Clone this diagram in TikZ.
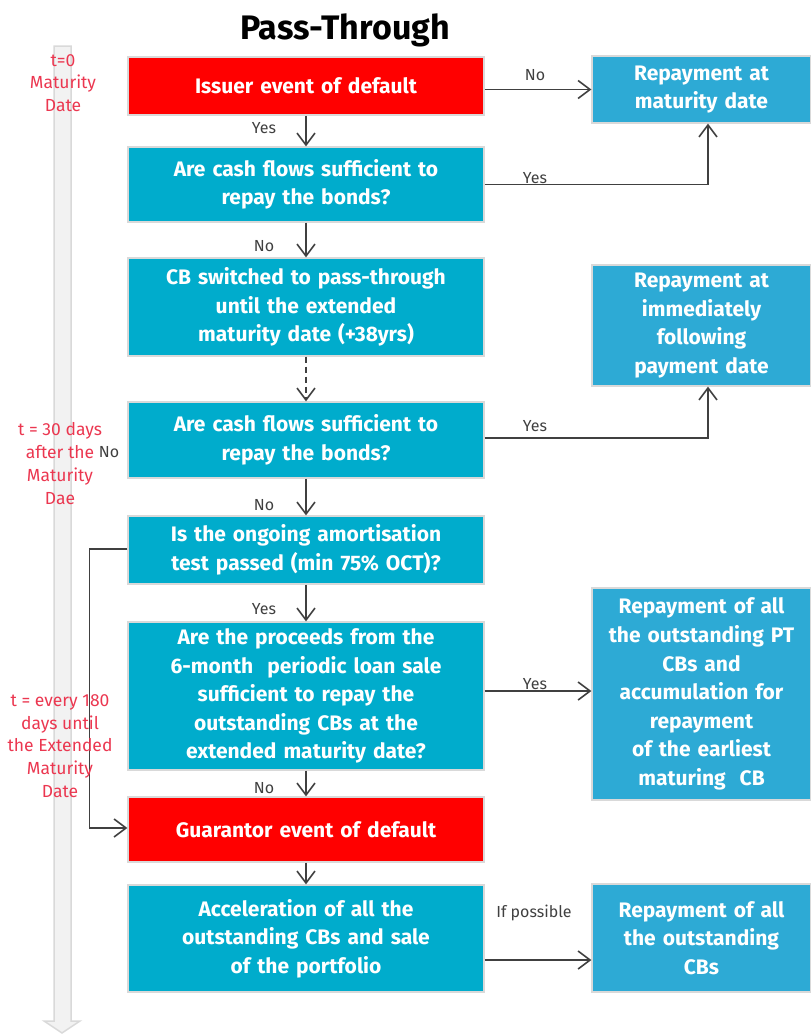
\documentclass[tikz,border=0pt]{standalone}
\usepackage{fontspec}
\setmainfont{Fira Sans}
\usetikzlibrary{arrows.meta,positioning}
\definecolor{BoxTeal}{RGB}{0,172,204}
\definecolor{BoxBlue}{RGB}{45,170,213}
\definecolor{AlertRed}{RGB}{255,0,0}
\definecolor{TimeRed}{RGB}{235,55,80}
\definecolor{LineGray}{RGB}{64,64,64}
\tikzset{
  flowbox/.style={fill=BoxTeal,draw=black!15,line width=1.2,text=white,
    font=\fontsize{21}{28.6}\selectfont\bfseries,align=center,
    minimum width=356,text width=346,inner sep=0},
  alertbox/.style={flowbox,fill=AlertRed},
  outbox/.style={flowbox,fill=BoxBlue,minimum width=219,text width=214},
  answer/.style={text=LineGray,font=\fontsize{16}{18}\selectfont,inner sep=0},
  timenote/.style={text=TimeRed,font=\fontsize{17.5}{22.8}\selectfont,align=center,inner sep=0},
  flow/.style={->,line width=1.6,LineGray}
}
\begin{document}
\begin{tikzpicture}[x=1pt,y=-1pt,>={Straight Barb[length=12,width=18]}]
      \useasboundingbox (0,0) rectangle (811,1034);
      \draw[fill=black!5,draw=black!15,line width=1.5]
        (54,46) -- (71,46) -- (71,1021) -- (80,1021) -- (62,1033)
        -- (44,1021) -- (54,1021) -- cycle;
      \node[font=\fontsize{34}{40}\selectfont\bfseries] (title) at (345,30) {Pass-Through};
      \node[alertbox,minimum height=58] (default) at (306,86) {Issuer event of default};
      \node[flowbox,minimum height=75] (cashA) at (306,184.5)
        {Are cash flows sufficient to\\repay the bonds?};
      \node[flowbox,minimum height=98] (switch) at (306,307)
        {CB switched to pass-through\\until the extended\\maturity date (+38yrs)};
      \node[flowbox,minimum height=76] (cashB) at (306,440)
        {Are cash flows sufficient to\\repay the bonds?};
      \node[flowbox,minimum height=68] (amort) at (306,550)
        {Is the ongoing amortisation\\test passed (min 75\% OCT)?};
      \node[flowbox,minimum height=148] (sale) at (306,696)
        {Are the proceeds from the\\6-month\ \ periodic loan sale\\sufficient to repay the\\outstanding CBs at the\\extended maturity date?};
      \node[alertbox,minimum height=65] (guarant) at (306,829.5) {Guarantor event of default};
      \node[flowbox,minimum height=107] (accel) at (306,938.5)
        {Acceleration of all the\\outstanding CBs and sale\\of the portfolio};
      \node[outbox,minimum height=67] (payMat) at (701.5,89.5)
        {Repayment at\\maturity date};
      \node[outbox,minimum height=121] (payNext) at (701.5,325.5)
        {Repayment at\\immediately\\following\\payment date};
      \node[outbox,minimum height=212] (payPT) at (701.5,694)
        {Repayment of all\\the outstanding PT\\CBs and\\accumulation for\\repayment\\of the earliest\\maturing\ \ CB};
      \node[outbox,minimum height=108] (payAll) at (701.5,938)
        {Repayment of all\\the outstanding\\CBs};
      \draw[flow] (default.east |- payMat.west) -- (payMat.west);
      \draw[flow] (default) -- (cashA);
      \draw[flow] (cashA.east) -| ([xshift=6.5]payMat.south);
      \draw[flow] (cashA) -- (switch);
      \draw[flow,dash pattern=on 6 off 4] (switch) -- (cashB);
      \draw[flow] ([yshift=2]cashB.east) -| ([xshift=6.5]payNext.south);
      \draw[flow] (cashB) -- (amort);
      \draw[flow] ([yshift=1]amort.west) -- ++(-38,0) |- ([yshift=1.5]guarant.west);
      \draw[flow] (amort) -- (sale);
      \draw[flow] ([yshift=5]sale.east) -- ([yshift=3]payPT.west);
      \draw[flow] (sale) -- (guarant);
      \draw[flow] (guarant) -- (accel);
      \draw[flow] ([yshift=-21.5]accel.east) -- ([yshift=-22]payAll.west);
      \node[answer] (noA) at (535,75) {No};
      \node[answer] (yesA) at (264,128) {Yes};
      \node[answer] (yesB) at (535,178) {Yes};
      \node[answer] (noB) at (264,246) {No};
      \node[answer] (yesC) at (535,426) {Yes};
      \node[answer] (noC) at (109,452) {No};
      \node[answer] (noD) at (264,505) {No};
      \node[answer] (yesD) at (264,609) {Yes};
      \node[answer] (yesE) at (535,684) {Yes};
      \node[answer] (noE) at (264,788) {No};
      \node[answer] (maybe) at (534,913) {If possible};
      \node[timenote] (tzero) at (63,83) {t=0\\Maturity\\Date};
      \node[timenote] (tthirty) at (60,463.5) {t = 30 days\\after the\\Maturity\\Dae};
      \node[timenote] (tevery) at (60,746) {t = every 180\\days until\\the Extended\\Maturity\\Date};
    \end{tikzpicture}
\end{document}
